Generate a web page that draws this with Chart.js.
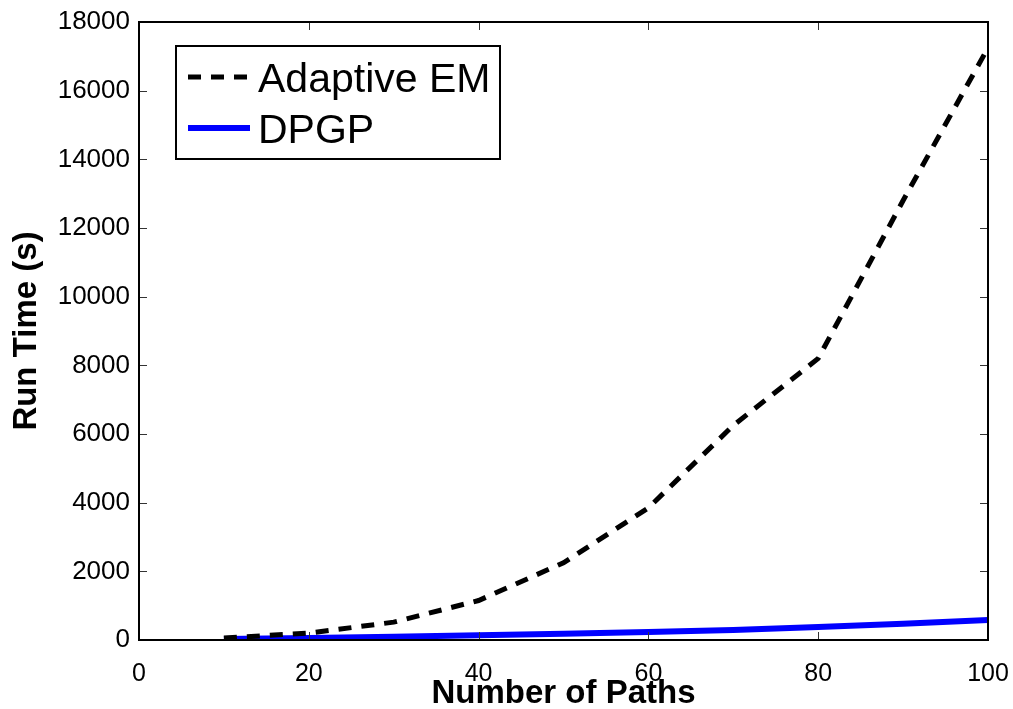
<!DOCTYPE html>
<html lang="en">
<head>
    <meta charset="UTF-8">
    <title>Run Time vs Number of Paths</title>
    <script src="https://cdn.jsdelivr.net/npm/chart.js"></script>
    <style>
        body {
            margin: 0;
            background-color: #ffffff;
        }
        .chart-container {
            width: 1013px;
            height: 709px;
        }
    </style>
</head>
<body>
    <div class="chart-container">
        <canvas id="runTimeChart" width="1013" height="709"></canvas>
    </div>

    <script>
        // values
        const numPaths = [10, 20, 30, 40, 50, 60, 70, 80, 90, 100];
        const adaptiveEM = [60, 200, 520, 1150, 2250, 3850, 6250, 8200, 12800, 17250];
        const dpgp = [30, 60, 95, 135, 180, 235, 290, 380, 470, 580];
        const xTicks = [0, 20, 40, 60, 80, 100];
        const yTicks = [0, 2000, 4000, 6000, 8000, 10000, 12000, 14000, 16000, 18000];

        const FONT = '"Liberation Sans", Arial, sans-serif';

        function toPoints(xs, ys) {
            return xs.map((x, i) => ({ x: x, y: ys[i] }));
        }

        // MATLAB style box with ticks pointing inwards
        const boxPlugin = {
            id: 'matlabBox',
            afterDatasetsDraw(chart) {
                const ctx = chart.ctx;
                const area = chart.chartArea;
                const xs = chart.scales.x;
                const ys = chart.scales.y;
                const len = 8;
                ctx.save();
                ctx.strokeStyle = '#333';
                ctx.lineWidth = 1;
                ctx.beginPath();
                xTicks.forEach(v => {
                    const px = Math.round(xs.getPixelForValue(v)) + 0.5;
                    ctx.moveTo(px, area.bottom); ctx.lineTo(px, area.bottom - len);
                    ctx.moveTo(px, area.top); ctx.lineTo(px, area.top + len);
                });
                yTicks.forEach(v => {
                    const py = Math.round(ys.getPixelForValue(v)) + 0.5;
                    ctx.moveTo(area.left, py); ctx.lineTo(area.left + len, py);
                    ctx.moveTo(area.right, py); ctx.lineTo(area.right - len, py);
                });
                ctx.stroke();
                ctx.strokeStyle = '#000';
                ctx.lineWidth = 2;
                ctx.strokeRect(area.left, area.top, area.right - area.left, area.bottom - area.top);
                ctx.restore();
            }
        };

        // legend box in the upper left of the axes
        const legendPlugin = {
            id: 'boxLegend',
            afterDraw(chart) {
                const ctx = chart.ctx;
                const area = chart.chartArea;
                const x0 = area.left + 37;
                const y0 = area.top + 24;
                ctx.save();
                ctx.fillStyle = '#fff';
                ctx.fillRect(x0, y0, 324, 113);
                ctx.strokeStyle = '#000';
                ctx.lineWidth = 2;
                ctx.strokeRect(x0, y0, 324, 113);
                ctx.font = '41px ' + FONT;
                ctx.textBaseline = 'alphabetic';
                chart.data.datasets.forEach((ds, i) => {
                    const cy = y0 + 31 + i * 51;
                    ctx.beginPath();
                    ctx.strokeStyle = ds.borderColor;
                    ctx.lineWidth = ds.borderWidth;
                    ctx.setLineDash(ds.borderDash || []);
                    ctx.moveTo(x0 + 12, cy);
                    ctx.lineTo(x0 + 74, cy);
                    ctx.stroke();
                    ctx.setLineDash([]);
                    ctx.fillStyle = '#000';
                    ctx.fillText(ds.label, x0 + 82, cy + 15);
                });
                ctx.restore();
            }
        };

        const chartCtx = document.getElementById('runTimeChart').getContext('2d');
        const runTimeChart = new Chart(chartCtx, {
            type: 'line',
            data: {
                datasets: [{
                    label: 'Adaptive EM',
                    data: toPoints(numPaths, adaptiveEM),
                    borderColor: '#000000',
                    borderWidth: 5,
                    borderDash: [13, 10],
                    pointRadius: 0,
                    tension: 0
                }, {
                    label: 'DPGP',
                    data: toPoints(numPaths, dpgp),
                    borderColor: '#0000ff',
                    borderWidth: 6,
                    pointRadius: 0,
                    tension: 0
                }]
            },
            options: {
                responsive: false,
                animation: false,
                layout: { padding: { top: 22, right: 25, left: 0, bottom: 0 } },
                plugins: {
                    legend: { display: false },
                    tooltip: { enabled: false }
                },
                scales: {
                    x: {
                        type: 'linear',
                        min: 0,
                        max: 100,
                        afterBuildTicks: s => { s.ticks = xTicks.map(v => ({ value: v })); },
                        afterFit: s => { s.height = 69; s.paddingLeft = 0; s.paddingRight = 0; },
                        ticks: { color: '#000', padding: 19, maxRotation: 0, font: { family: FONT, size: 25 } },
                        grid: { display: false, drawTicks: false },
                        border: { display: false },
                        title: {
                            display: true,
                            text: 'Number of Paths',
                            color: '#000',
                            padding: { top: 0, bottom: -5 },
                            font: { family: FONT, size: 33, weight: 'bold' }
                        }
                    },
                    y: {
                        type: 'linear',
                        min: 0,
                        max: 18000,
                        afterBuildTicks: s => { s.ticks = yTicks.map(v => ({ value: v })); },
                        afterFit: s => { s.width = 139; s.paddingTop = 0; s.paddingBottom = 0; },
                        ticks: { color: '#000', padding: 9, font: { family: FONT, size: 26 }, callback: v => String(v) },
                        grid: { display: false, drawTicks: false },
                        border: { display: false },
                        title: {
                            display: true,
                            text: 'Run Time (s)',
                            color: '#000',
                            padding: { top: 7, bottom: 0 },
                            font: { family: FONT, size: 33, weight: 'bold' }
                        }
                    }
                }
            },
            plugins: [boxPlugin, legendPlugin]
        });
    </script>
</body>
</html>
